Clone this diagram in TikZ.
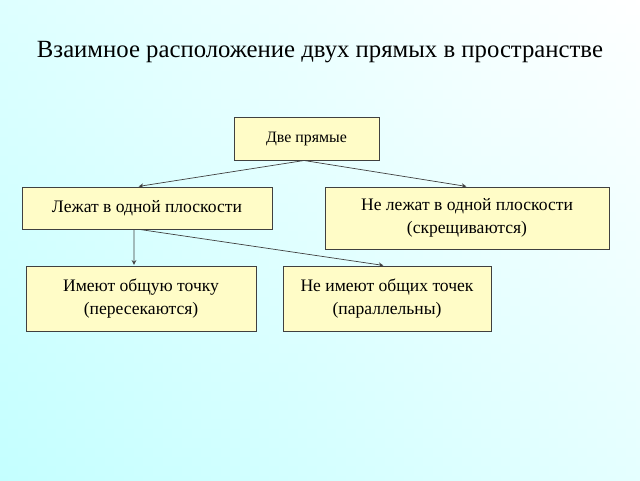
\documentclass[tikz,border=0pt]{standalone}
\usepackage{fontspec}
\setmainfont{Liberation Serif}
\usetikzlibrary{calc}

\tikzset{
  box/.style={draw=black!75, line width=0.7pt, fill=yellow!22, inner sep=0pt,
    align=center, font=\fontsize{12.5}{16}\selectfont},
  arr/.style={->, >=stealth, draw=black!75, line width=0.5pt, shorten >=0.5pt}
}

\begin{document}
\begin{tikzpicture}
  % background
  \shade[left color=cyan!26, right color=white] (0,0) rectangle (16,-12);
  \shade[top color=white, bottom color=cyan!20, opacity=0.5] (0,0) rectangle (16,-12);
  \useasboundingbox (0,0) rectangle (16,-12);

  % title
  \node (title) at (8,-1.3) {\fontsize{17.6}{22}\selectfont Взаимное расположение двух прямых в пространстве};

  % boxes
  \node [box, font=\fontsize{11.3}{14}\selectfont, minimum width=3.625cm, minimum height=1.075cm] (lines) at (7.6625,-3.4625) {Две прямые};
  \node [box, minimum width=6.25cm, minimum height=1.05cm] (plane) at (3.675,-5.2) {Лежат в одной плоскости};
  \node [box, minimum width=7.1cm, minimum height=1.55cm] (skew) at (11.675,-5.45) {Не лежат в одной плоскости\\(скрещиваются)};
  \node [box, minimum width=5.75cm, minimum height=1.625cm] (cross) at (3.525,-7.4625) {Имеют общую точку\\(пересекаются)};
  \node [box, minimum width=5.2cm, minimum height=1.625cm] (para) at (9.675,-7.4625) {Не имеют общих точек\\(параллельны)};

  % connectors
  \draw [arr] ([xshift=-0.06cm]lines.south) -- ([xshift=-0.225cm]plane.north);
  \draw [arr] ([xshift=-0.06cm]lines.south) -- (skew.north);
  \draw [arr] ([xshift=-0.325cm]plane.south) -- ([xshift=-0.175cm]cross.north);
  \draw [arr] ([xshift=-0.175cm]plane.south) -- ([xshift=-0.075cm]para.north);
\end{tikzpicture}
\end{document}
